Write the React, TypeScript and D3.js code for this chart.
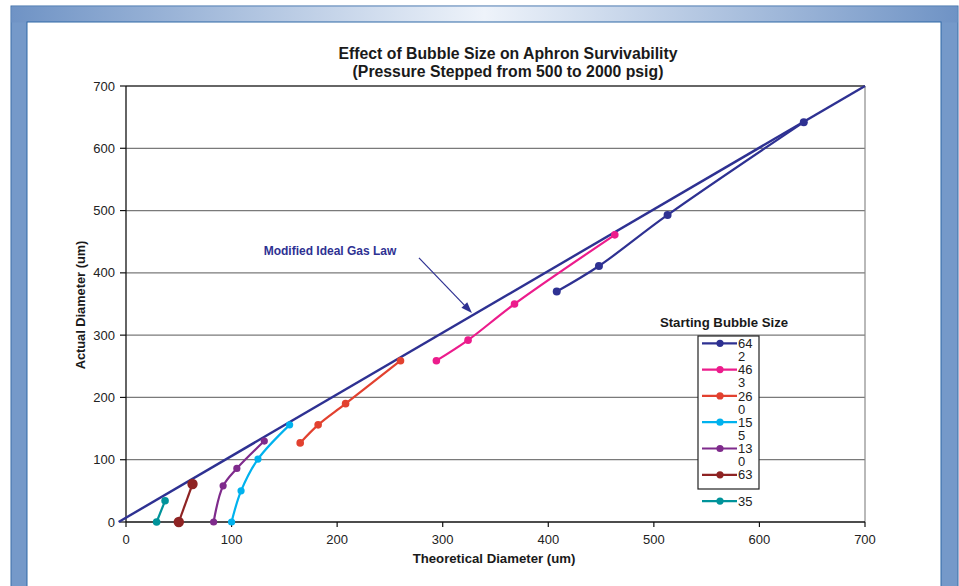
import React from "react";
import * as d3 from "d3";

const seriesNames = ["642", "463", "260", "155", "130", "63", "35"];
const seriesColors = ["#2e3192", "#ec1c8c", "#e2412f", "#00b2ee", "#7f2b8c", "#8e2323", "#00939a"];
const markerRadius = [4, 3.8, 3.8, 3.6, 3.6, 5.2, 3.8];

const s642 = [[408, 370], [448, 411], [513, 493], [642, 642]];
const s463 = [[294, 259], [324, 292], [368, 350], [463, 461]];
const s260 = [[165, 127], [182, 156], [208, 190], [260, 259]];
const s155 = [[100, 0], [109, 50], [125, 101], [155, 156]];
const s130 = [[83, 0], [92, 58], [105, 86], [131, 130]];
const s63 = [[50, 0], [63, 61]];
const s35 = [[29, 0], [37, 34]];
const seriesData = [s642, s463, s260, s155, s130, s63, s35];

const idealLine = [[-7, 0], [700, 700]];
const xTicks = [0, 100, 200, 300, 400, 500, 600, 700];
const yTicks = [0, 100, 200, 300, 400, 500, 600, 700];

const titleLines = ["Effect of Bubble Size on Aphron Survivability", "(Pressure Stepped from 500 to 2000 psig)"];
const annotationText = "Modified Ideal Gas Law";

export default function App() {
  const W = 959, H = 586;
  const x = d3.scaleLinear().domain([0, 700]).range([126, 865]);
  const y = d3.scaleLinear().domain([0, 700]).range([522, 86]);
  const line = d3.line<number[]>().x(d => x(d[0])).y(d => y(d[1])).curve(d3.curveCatmullRom.alpha(0.5));
  const straight = d3.line<number[]>().x(d => x(d[0])).y(d => y(d[1]));
  const font = "'Liberation Sans', Arial, sans-serif";

  // annotation arrow (data coords)
  const a0 = [277.5, 424], a1 = [327.7, 335.5];
  const ax0 = x(a0[0]), ay0 = y(a0[1]), ax1 = x(a1[0]), ay1 = y(a1[1]);
  const ang = Math.atan2(ay1 - ay0, ax1 - ax0);
  const hl = 11, hw = 4;
  const bx = ax1 - hl * Math.cos(ang), by = ay1 - hl * Math.sin(ang);
  const head = `M${ax1},${ay1} L${bx + hw * Math.sin(ang)},${by - hw * Math.cos(ang)} L${bx - hw * Math.sin(ang)},${by + hw * Math.cos(ang)} Z`;

  const legX = 698, legY = 336, legW = 61, legH = 153;
  const entryY = (i: number) => 343.3 + i * 26.3;

  return (
    <svg width={W} height={H} style={{ position: "absolute", left: 0, top: 0, background: "#fff" }} fontFamily={font}>
      <defs>
        <linearGradient id="topband" x1="0" x2="1" y1="0" y2="0">
          <stop offset="0" stopColor="#6f93c5" />
          <stop offset="0.5" stopColor="#eef3fa" />
          <stop offset="1" stopColor="#6f93c5" />
        </linearGradient>
      </defs>
      {/* frame */}
      <rect x={11} y={6} width={947} height={600} fill="#7599c9" stroke="#3c6ea7" strokeWidth={1} />
      <rect x={11.5} y={6.5} width={946} height={16} fill="url(#topband)" />
      <rect x={27} y={22} width={914} height={600} fill="#ffffff" stroke="#2f68a6" strokeWidth={1} />

      {/* title */}
      {titleLines.map((t, i) => (
        <text key={i} x={508} y={59 + i * 17.5} textAnchor="middle" fontSize={15.8} fontWeight="bold" fill="#1a1a1a">{t}</text>
      ))}

      {/* gridlines */}
      {yTicks.filter(v => v > 0).map(v => (
        <line key={v} x1={x(0)} x2={x(700)} y1={y(v)} y2={y(v)} stroke={v === 700 ? "#333" : "#7a7a7a"} strokeWidth={1.3} />
      ))}
      <line x1={x(700)} x2={x(700)} y1={y(0)} y2={y(700)} stroke="#8a8a8a" strokeWidth={1.2} />

      {/* axes */}
      <line x1={x(0)} x2={x(0)} y1={y(0)} y2={y(700)} stroke="#111" strokeWidth={1.3} />
      <line x1={x(0)} x2={x(700)} y1={y(0)} y2={y(0)} stroke="#111" strokeWidth={1.6} />
      {yTicks.map(v => (
        <g key={v}>
          <line x1={x(0) - 6} x2={x(0)} y1={y(v)} y2={y(v)} stroke="#111" strokeWidth={1.2} />
          <text x={x(0) - 11} y={y(v) + 4.6} textAnchor="end" fontSize={13} fill="#222">{v}</text>
        </g>
      ))}
      {xTicks.map(v => (
        <g key={v}>
          <line x1={x(v)} x2={x(v)} y1={y(0)} y2={y(0) + 5} stroke="#111" strokeWidth={1.2} />
          <text x={x(v)} y={y(0) + 22} textAnchor="middle" fontSize={13} fill="#222">{v}</text>
        </g>
      ))}
      <text x={494} y={563} textAnchor="middle" fontSize={13.2} fontWeight="bold" fill="#1a1a1a">Theoretical Diameter (um)</text>
      <text transform={`translate(85,305) rotate(-90)`} textAnchor="middle" fontSize={12.8} fontWeight="bold" fill="#1a1a1a">Actual Diameter (um)</text>

      {/* ideal gas law line */}
      <path d={straight(idealLine) || ""} fill="none" stroke="#2e3192" strokeWidth={2.4} />

      {/* series */}
      {seriesData.map((data, i) => (
        <g key={i}>
          <path d={line(data) || ""} fill="none" stroke={seriesColors[i]} strokeWidth={2.2} />
          {data.map((d, j) => (
            <circle key={j} cx={x(d[0])} cy={y(d[1])} r={markerRadius[i]} fill={seriesColors[i]} />
          ))}
        </g>
      ))}

      {/* annotation */}
      <text x={330} y={255} textAnchor="middle" fontSize={12} fontWeight="bold" fill="#2e3192">{annotationText}</text>
      <line x1={ax0} y1={ay0} x2={bx} y2={by} stroke="#2e3192" strokeWidth={1.2} />
      <path d={head} fill="#2e3192" />

      {/* legend */}
      <text x={724} y={326.5} textAnchor="middle" fontSize={13.2} fontWeight="bold" fill="#1a1a1a">Starting Bubble Size</text>
      <rect x={legX} y={legY} width={legW} height={legH} fill="#fff" stroke="#222" strokeWidth={1.2} />
      {seriesNames.map((n, i) => (
        <g key={n}>
          <line x1={702} x2={737} y1={entryY(i)} y2={entryY(i)} stroke={seriesColors[i]} strokeWidth={2.2} />
          <circle cx={720} cy={entryY(i)} r={3.6} fill={seriesColors[i]} />
          <text x={738} y={entryY(i) + 4.6} fontSize={13} fill="#222">{n.slice(0, 2)}</text>
          {n.length > 2 && <text x={738} y={entryY(i) + 17.8} fontSize={13} fill="#222">{n.slice(2)}</text>}
        </g>
      ))}
    </svg>
  );
}
